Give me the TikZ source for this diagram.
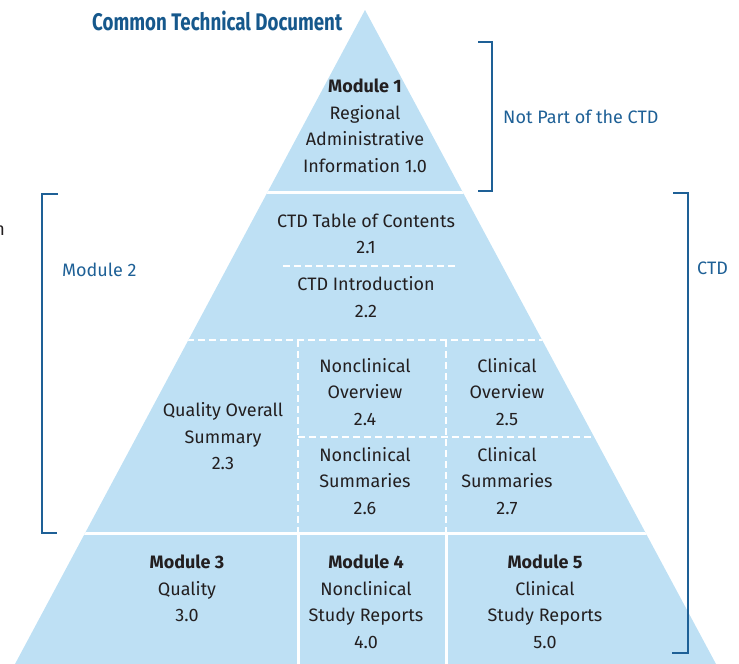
\documentclass[tikz,border=0pt]{standalone}
\usepackage{fontspec}
\setmainfont{Fira Sans}
\definecolor{tri}{RGB}{190,224,244}
\definecolor{brk}{RGB}{30,96,150}
\definecolor{ttl}{RGB}{22,88,140}
\definecolor{txt}{RGB}{35,31,32}
\tikzset{
  t/.style={font=\fontsize{18}{26.5}\selectfont, align=center, text=txt, inner sep=0pt},
  lbl/.style={font=\fontsize{18}{26.5}\selectfont, text=brk, inner sep=0pt, anchor=west},
  sepline/.style={draw=white, line width=3pt},
  dsepline/.style={draw=white, line width=2.5pt, dash pattern=on 7pt off 4pt},
  bracket/.style={draw=brk, line width=1.5pt}
}
\begin{document}
\begin{tikzpicture}[x=1pt,y=-1pt]
\useasboundingbox (0,0) rectangle (739,664);
\coordinate (apex) at (365,10);
\coordinate (bl) at (15,664);
\coordinate (br) at (716,664);
\fill[tri] (apex) -- (bl) -- (br) -- cycle;
\begin{scope}
\clip (apex) -- (bl) -- (br) -- cycle;
\draw[sepline] (0,192) -- (739,192);
\draw[sepline] (0,533) -- (739,533);
\draw[dsepline] (0,340) -- (739,340);
\draw[dsepline] (298,437) -- (739,437);
\draw[dsepline] (298,340) -- (298,533);
\draw[dsepline] (446,340) -- (446,533);
\draw[sepline] (298,533) -- (298,670);
\draw[sepline] (446,533) -- (446,670);
\draw[dsepline] (283,266) -- (455,266);
\end{scope}
% title
\node[font=\fontsize{24}{28}\selectfont\bfseries, text=ttl, inner sep=0pt, anchor=west] (title) at (92,21) {\scalebox{0.78}[1]{Common Technical Document}};
\node[t, anchor=east] (cut) at (5,231) {n};
% texts
\node[t] (m1) at (365,126) {\textbf{Module 1}\\Regional\\Administrative\\Information 1.0};
\node[t] (toc) at (366,234) {CTD Table of Contents\\2.1};
\node[t] (intro) at (366,297) {CTD Introduction\\2.2};
\node[t] (qos) at (223,436.5) {Quality Overall\\Summary\\2.3};
\node[t] (nco) at (365,392) {Nonclinical\\Overview\\2.4};
\node[t] (co) at (507,392) {Clinical\\Overview\\2.5};
\node[t] (ncs) at (365,481) {Nonclinical\\Summaries\\2.6};
\node[t] (cs) at (507,481) {Clinical\\Summaries\\2.7};
\node[t] (m3) at (187,588.5) {\textbf{Module 3}\\Quality\\3.0};
\node[t] (m4) at (366,602) {\textbf{Module 4}\\Nonclinical\\Study Reports\\4.0};
\node[t] (m5) at (545,602) {\textbf{Module 5}\\Clinical\\Study Reports\\5.0};
% brackets and labels
\draw[bracket] (478,42) -- (492,42) -- (492,191) -- (478,191);
\node[lbl] (notctd) at (503,117) {Not Part of the CTD};
\draw[bracket] (673,193) -- (688,193) -- (688,653) -- (672,653);
\node[lbl] (ctd) at (697,268) {CTD};
\draw[bracket] (58,194) -- (42,194) -- (42,533) -- (57,533);
\node[lbl] (mod2) at (62,270) {Module 2};
\end{tikzpicture}
\end{document}
